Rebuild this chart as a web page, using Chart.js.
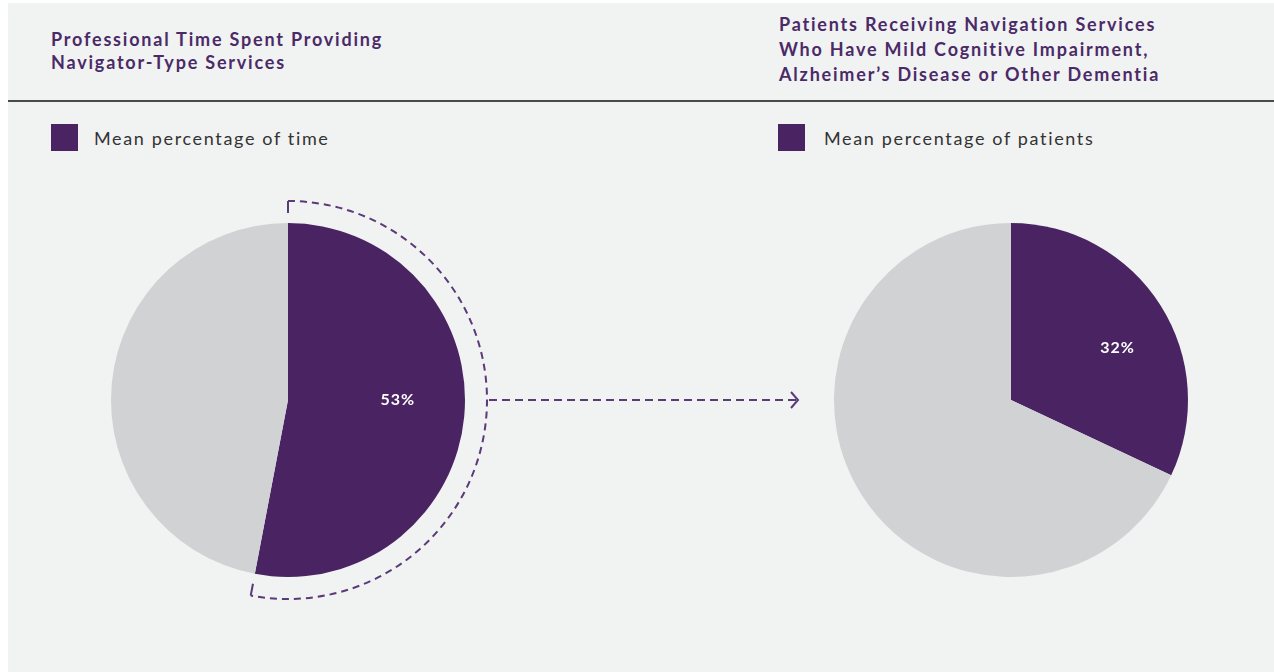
<!DOCTYPE html>
<html>
<head>
<meta charset="utf-8">
<script src="https://cdn.jsdelivr.net/npm/chart.js@4.4.1/dist/chart.umd.min.js"></script>
<style>
  html, body { margin: 0; padding: 0; background: #ffffff; }
  #page { position: absolute; left: 8px; top: 3px; width: 1266px; height: 669px; background: #f1f2f2; overflow: hidden; }
  .title { position: absolute; font-family: Lato, sans-serif; font-weight: bold; font-size: 18px; letter-spacing: 1.8px; color: #4b2a68; }
  #rule { position: absolute; left: 0; top: 97px; width: 1266px; height: 2px; background: #4a4a4a; }
  .legend { position: absolute; font-family: Lato, sans-serif; font-size: 18px; letter-spacing: 1.65px; color: #333333; display: flex; align-items: center; }
  .legend span.box { display: inline-block; width: 27px; height: 27px; background: #4a2462; margin-right: 16px; }
  canvas { position: absolute; }
</style>
</head>
<body>
<div id="page">
  <div class="title" id="t1" style="left:43px; top:25px; line-height:23px;"></div>
  <div class="title" id="t2" style="left:771px; top:9px; line-height:25px;"></div>
  <div id="rule"></div>
  <div class="legend" id="lg1" style="left:43px; top:121px;"></div>
  <div class="legend" id="lg2" style="left:770px; top:121px;"></div>
</div>
<canvas id="leftChart" style="left:0; top:170px;"></canvas>
<canvas id="rightChart" style="left:820px; top:170px;"></canvas>
<script>
// chart data
var titles = [
  ["Professional Time Spent Providing", "Navigator-Type Services"],
  ["Patients Receiving Navigation Services", "Who Have Mild Cognitive Impairment,", "Alzheimer\u2019s Disease or Other Dementia"]
];
var legendLabels = ["Mean percentage of time", "Mean percentage of patients"];
var leftValues = [53, 47];
var rightValues = [32, 68];
var sliceColors = ["#4a2462", "#d1d2d4"];

document.getElementById("t1").innerHTML = titles[0].join("<br>");
document.getElementById("t2").innerHTML = titles[1].join("<br>");
document.getElementById("lg1").innerHTML = '<span class="box"></span>' + legendLabels[0];
document.getElementById("lg2").innerHTML = '<span class="box" style="margin-right:19px"></span>' + legendLabels[1];

// white percentage label on the first slice
var pctLabel = {
  id: 'pctLabel',
  afterDatasetsDraw: function(chart, args, opts) {
    var arc = chart.getDatasetMeta(0).data[0];
    var ctx = chart.ctx;
    var mid = (arc.startAngle + arc.endAngle) / 2 + (opts.shift || 0);
    var r = arc.outerRadius * (opts.factor || 0.62);
    ctx.save();
    ctx.fillStyle = "#ffffff";
    ctx.font = "bold 16px Lato, sans-serif";
    ctx.letterSpacing = "1px";
    ctx.textAlign = "center";
    ctx.textBaseline = "middle";
    ctx.fillText(chart.data.datasets[0].data[0] + "%", arc.x + Math.cos(mid) * r, arc.y + Math.sin(mid) * r);
    ctx.restore();
  }
};

// dashed bracket around the first slice and the arrow to the next chart
var bracketArrow = {
  id: 'bracketArrow',
  afterDatasetsDraw: function(chart) {
    var arc = chart.getDatasetMeta(0).data[0];
    var ctx = chart.ctx;
    var R = arc.outerRadius + 22;
    ctx.save();
    ctx.strokeStyle = "#5b3a78";
    ctx.lineWidth = 2;
    ctx.setLineDash([7, 5]);
    ctx.beginPath();
    ctx.arc(arc.x, arc.y, R, arc.startAngle, arc.endAngle);
    ctx.stroke();
    // end ticks
    [arc.startAngle, arc.endAngle].forEach(function(a) {
      ctx.setLineDash([]);
      ctx.beginPath();
      ctx.moveTo(arc.x + Math.cos(a) * R, arc.y + Math.sin(a) * R);
      ctx.lineTo(arc.x + Math.cos(a) * (R - 12), arc.y + Math.sin(a) * (R - 12));
      ctx.stroke();
    });
    // arrow
    var x0 = arc.x + R + 2;
    var x1 = chart.width - 22;
    ctx.setLineDash([8, 5]);
    ctx.beginPath();
    ctx.moveTo(x0, arc.y);
    ctx.lineTo(x1 - 2, arc.y);
    ctx.stroke();
    ctx.setLineDash([]);
    ctx.beginPath();
    ctx.moveTo(x1 - 7, arc.y - 8);
    ctx.lineTo(x1, arc.y);
    ctx.lineTo(x1 - 7, arc.y + 8);
    ctx.stroke();
    ctx.restore();
  }
};

function makePie(id, values, w, pad, labelOpts, plugins) {
  var canvas = document.getElementById(id);
  canvas.width = w;
  canvas.height = 460;
  canvas.style.width = w + "px";
  canvas.style.height = "460px";
  return new Chart(canvas.getContext('2d'), {
    type: 'pie',
    data: {
      labels: ["Share", "Other"],
      datasets: [{
        data: values,
        backgroundColor: sliceColors,
        borderWidth: 0
      }]
    },
    options: {
      responsive: false,
      animation: false,
      layout: { padding: pad },
      plugins: {
        legend: { display: false },
        tooltip: { enabled: false },
        pctLabel: labelOpts
      }
    },
    plugins: plugins
  });
}

makePie("leftChart", leftValues, 820, { left: 111, right: 355, top: 53, bottom: 53 }, { factor: 0.62, shift: -0.094 }, [pctLabel, bracketArrow]);
makePie("rightChart", rightValues, 454, { left: 14, right: 86, top: 53, bottom: 53 }, { factor: 0.67, shift: 0.11 }, [pctLabel]);
</script>
</body>
</html>
